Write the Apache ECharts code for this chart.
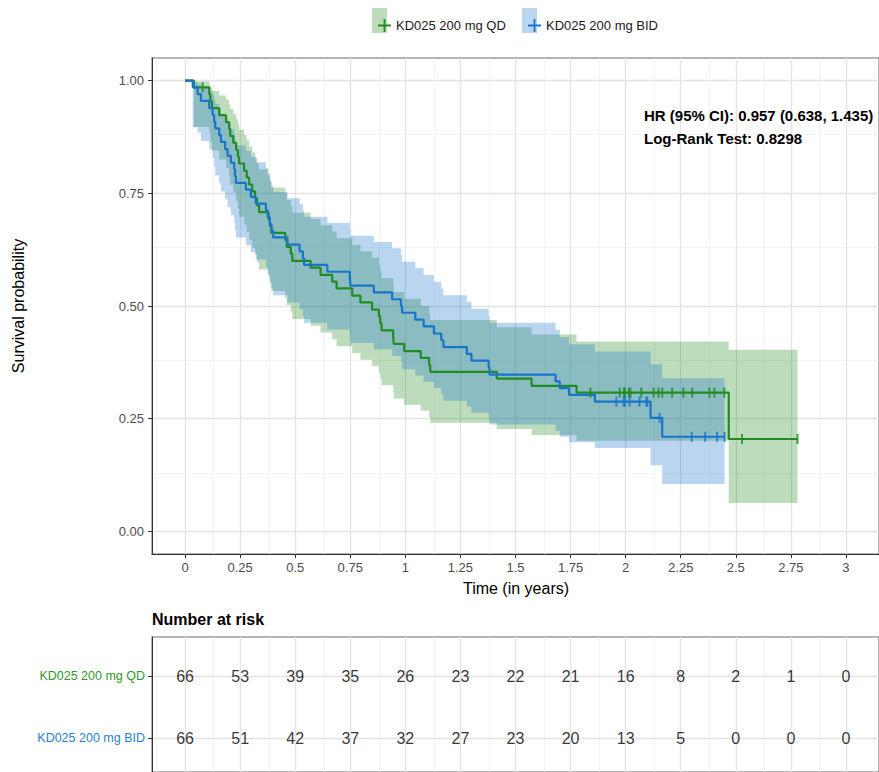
<!DOCTYPE html>
<html><head><meta charset="utf-8">
<script src="https://cdn.jsdelivr.net/npm/echarts@6/dist/echarts.min.js"></script>
<style>html,body{margin:0;padding:0;background:#fff}#c{width:879px;height:772px}</style>
</head><body><div id="c"></div>
<script>
// ---------- data ----------
const groups = ['KD025 200 mg QD', 'KD025 200 mg BID'];
const timeTicks = [0, 0.25, 0.5, 0.75, 1, 1.25, 1.5, 1.75, 2, 2.25, 2.5, 2.75, 3];
const timeTickLabels = ['0', '0.25', '0.5', '0.75', '1', '1.25', '1.5', '1.75', '2', '2.25', '2.5', '2.75', '3'];
const timeMinorTicks = [-0.125, 0.125, 0.375, 0.625, 0.875, 1.125, 1.375, 1.625, 1.875, 2.125, 2.375, 2.625, 2.875, 3.125];
const survTicks = [0, 0.25, 0.5, 0.75, 1];
const survTickLabels = ['0.00', '0.25', '0.50', '0.75', '1.00'];
const survMinorTicks = [0.125, 0.375, 0.625, 0.875];

// KD025 200 mg QD: step points (time in years, survival, 95% CI lower, upper)
const qdTime  = [0, 0.04, 0.11, 0.115, 0.122, 0.155, 0.186, 0.200, 0.205, 0.219, 0.232, 0.240, 0.245, 0.268, 0.280, 0.291, 0.305, 0.318, 0.327, 0.336, 0.379, 0.385, 0.392, 0.455, 0.462, 0.480, 0.487, 0.570, 0.615, 0.668, 0.688, 0.759, 0.796, 0.849, 0.880, 0.886, 0.892, 0.945, 0.947, 0.995, 1.070, 1.108, 1.113, 1.415, 1.573, 1.777, 2.468, 2.780];
const qdSurv  = [1, 0.985, 0.969, 0.954, 0.939, 0.923, 0.908, 0.893, 0.877, 0.862, 0.846, 0.831, 0.816, 0.800, 0.785, 0.769, 0.754, 0.739, 0.723, 0.708, 0.692, 0.677, 0.662, 0.646, 0.631, 0.616, 0.600, 0.585, 0.569, 0.554, 0.539, 0.523, 0.508, 0.492, 0.477, 0.462, 0.446, 0.431, 0.416, 0.400, 0.385, 0.369, 0.354, 0.339, 0.323, 0.308, 0.205, 0.205];
const qdLower = [1, 0.897, 0.883, 0.864, 0.845, 0.825, 0.806, 0.788, 0.769, 0.751, 0.733, 0.716, 0.698, 0.681, 0.664, 0.647, 0.630, 0.614, 0.597, 0.581, 0.565, 0.549, 0.533, 0.517, 0.502, 0.486, 0.471, 0.456, 0.441, 0.426, 0.411, 0.396, 0.381, 0.367, 0.352, 0.338, 0.324, 0.309, 0.295, 0.281, 0.268, 0.254, 0.241, 0.227, 0.214, 0.201, 0.063, 0.063];
const qdUpper = [1, 0.998, 0.992, 0.985, 0.977, 0.967, 0.958, 0.947, 0.937, 0.926, 0.914, 0.903, 0.891, 0.879, 0.867, 0.854, 0.841, 0.829, 0.816, 0.803, 0.789, 0.776, 0.763, 0.749, 0.735, 0.721, 0.707, 0.693, 0.679, 0.665, 0.650, 0.636, 0.621, 0.607, 0.592, 0.577, 0.562, 0.547, 0.531, 0.516, 0.500, 0.485, 0.469, 0.453, 0.437, 0.421, 0.403, 0.403];
const qdCensor = [0.08, 1.840, 1.973, 1.993, 1.996, 2.015, 2.022, 2.071, 2.127, 2.149, 2.166, 2.211, 2.262, 2.302, 2.380, 2.403, 2.448, 2.528, 2.780];

// KD025 200 mg BID
const bidTime  = [0, 0.035, 0.057, 0.072, 0.110, 0.125, 0.132, 0.137, 0.155, 0.163, 0.182, 0.193, 0.208, 0.223, 0.227, 0.231, 0.276, 0.299, 0.321, 0.367, 0.375, 0.385, 0.392, 0.400, 0.465, 0.520, 0.535, 0.540, 0.646, 0.748, 0.751, 0.857, 0.940, 0.980, 0.985, 1.045, 1.083, 1.130, 1.163, 1.173, 1.279, 1.300, 1.378, 1.382, 1.682, 1.701, 1.743, 1.860, 2.113, 2.166, 2.449];
const bidSurv  = [1, 0.985, 0.970, 0.955, 0.939, 0.924, 0.909, 0.894, 0.879, 0.864, 0.848, 0.833, 0.818, 0.803, 0.788, 0.773, 0.758, 0.742, 0.727, 0.712, 0.697, 0.682, 0.667, 0.652, 0.636, 0.621, 0.606, 0.591, 0.576, 0.561, 0.545, 0.530, 0.515, 0.500, 0.485, 0.470, 0.455, 0.439, 0.424, 0.409, 0.394, 0.379, 0.364, 0.348, 0.333, 0.318, 0.303, 0.288, 0.252, 0.210, 0.210];
const bidLower = [1, 0.897, 0.884, 0.866, 0.847, 0.828, 0.809, 0.790, 0.772, 0.754, 0.737, 0.719, 0.702, 0.685, 0.668, 0.652, 0.635, 0.619, 0.603, 0.587, 0.571, 0.555, 0.539, 0.524, 0.508, 0.493, 0.478, 0.463, 0.448, 0.433, 0.418, 0.404, 0.389, 0.375, 0.360, 0.346, 0.332, 0.318, 0.304, 0.290, 0.277, 0.263, 0.250, 0.237, 0.223, 0.210, 0.198, 0.185, 0.147, 0.105, 0.105];
const bidUpper = [1, 0.998, 0.992, 0.985, 0.977, 0.968, 0.958, 0.948, 0.938, 0.927, 0.916, 0.904, 0.892, 0.881, 0.869, 0.856, 0.844, 0.831, 0.819, 0.806, 0.793, 0.780, 0.766, 0.753, 0.739, 0.726, 0.712, 0.698, 0.684, 0.670, 0.656, 0.642, 0.628, 0.613, 0.598, 0.584, 0.569, 0.554, 0.539, 0.524, 0.509, 0.494, 0.478, 0.463, 0.447, 0.431, 0.415, 0.399, 0.371, 0.340, 0.340];
const bidCensor = [1.958, 1.991, 1.997, 2.018, 2.063, 2.094, 2.098, 2.154, 2.300, 2.361, 2.415, 2.449];

// Number at risk (at timeTicks)
const qdAtRisk  = [66, 53, 39, 35, 26, 23, 22, 21, 16, 8, 2, 1, 0];
const bidAtRisk = [66, 51, 42, 37, 32, 27, 23, 20, 13, 5, 0, 0, 0];

const hrText = 'HR (95% CI): 0.957 (0.638, 1.435)';
const lrText = 'Log-Rank Test: 0.8298';

// ---------- styling ----------
const FONT = '"Liberation Sans", Arial, Helvetica, sans-serif';
const GREEN = '#228B22', BLUE = '#1874CD';
const GREEN_FILL = 'rgba(34,139,34,0.3)', BLUE_FILL = 'rgba(24,116,205,0.3)';
const MAJ = {color: '#e4e4e4', width: 1.4, type: 'solid'};
const MIN = {color: '#f1f1f1', width: 0.8, type: 'solid'};

function pairs(xs, ys) { return xs.map((x, i) => [x, ys[i]]); }
function survAt(times, surv, t) {
  let s = surv[0];
  for (let i = 0; i < times.length; i++) if (times[i] <= t) s = surv[i];
  return s;
}
function gridLines(xi, yi, xMaj, xMin, yMaj, yMin) {
  return {
    type: 'line', xAxisIndex: xi, yAxisIndex: yi, data: [], silent: true, z: 0,
    markLine: {
      silent: true, z: 0, zlevel: 0, symbol: ['none', 'none'], label: {show: false}, animation: false,
      lineStyle: {type: 'solid'},
      data: [].concat(
        xMin.map(v => ({xAxis: v, lineStyle: MIN})),
        yMin.map(v => ({yAxis: v, lineStyle: MIN})),
        xMaj.map(v => ({xAxis: v, lineStyle: MAJ})),
        yMaj.map(v => ({yAxis: v, lineStyle: MAJ}))
      )
    }
  };
}
// confidence band drawn as one step polygon through the axis scales
function band(times, lo, up, fill) {
  return {
    type: 'custom', silent: true, z: 1,
    data: times.map((t, i) => [t, lo[i], up[i]]),
    encode: {x: 0, y: [1, 2]},
    renderItem: (params, api) => {
      if (params.dataIndex !== 0) return null;
      const top = [], bottom = [];
      for (let i = 0; i < times.length; i++) {
        const x0 = times[i], x1 = i + 1 < times.length ? times[i + 1] : times[i];
        top.push(api.coord([x0, up[i]]), api.coord([x1, up[i]]));
        bottom.push(api.coord([x0, lo[i]]), api.coord([x1, lo[i]]));
      }
      return {type: 'polygon', shape: {points: top.concat(bottom.reverse())}, style: {fill: fill}};
    }
  };
}
function curve(name, times, surv, color) {
  return {type: 'line', name, step: 'end', symbol: 'none', z: 3, data: pairs(times, surv),
          lineStyle: {color, width: 2.2}, itemStyle: {color}};
}
function censor(name, cens, times, surv, color) {
  return {type: 'scatter', name: name + '-censor', z: 4, symbol: 'rect', symbolSize: [2, 10], silent: true,
          itemStyle: {color}, data: cens.map(t => [t, survAt(times, surv, t)])};
}
function riskRow(row, counts) {
  return {type: 'scatter', xAxisIndex: 1, yAxisIndex: 1, symbolSize: 1, silent: true, z: 5,
          itemStyle: {color: 'rgba(0,0,0,0)'},
          label: {show: true, position: 'inside', formatter: p => String(p.value[2]),
                  color: '#000', fontSize: 16, fontFamily: FONT},
          data: timeTicks.map((t, i) => [t, row, counts[i]])};
}
const rowLabels = {2: groups[0], 1: groups[1]};
const plusIcon = 'path://M0,5.6 L13,5.6 L13,7.4 L0,7.4 Z M5.6,0 L7.4,0 L7.4,13 L5.6,13 Z';

const option = {
  animation: false,
  backgroundColor: '#fff',
  textStyle: {fontFamily: FONT},
  grid: [
    {left: 152, top: 58, width: 728, height: 496, show: true, borderColor: '#9a9a9a', borderWidth: 1.5, backgroundColor: '#fff'},
    {left: 152, top: 637, width: 728, height: 135, show: true, borderColor: '#9a9a9a', borderWidth: 1.5, backgroundColor: '#fff'}
  ],
  legend: [
    {left: 373, top: 14, itemWidth: 13, itemHeight: 13, selectedMode: false,
     textStyle: {fontSize: 13, color: '#1a1a1a', fontFamily: FONT},
     data: [{name: groups[0], icon: plusIcon, itemStyle: {color: GREEN}}]},
    {left: 523, top: 14, itemWidth: 13, itemHeight: 13, selectedMode: false,
     textStyle: {fontSize: 13, color: '#1a1a1a', fontFamily: FONT},
     data: [{name: groups[1], icon: plusIcon, itemStyle: {color: BLUE}}]}
  ],
  xAxis: [
    {type: 'value', gridIndex: 0, min: -0.15, max: 3.15, splitLine: {show: false},
     axisLine: {show: true, onZero: false, lineStyle: {color: '#333', width: 1}},
     axisTick: {show: true, customValues: timeTicks, length: 4, lineStyle: {color: '#333'}},
     axisLabel: {customValues: timeTicks, margin: 7, color: '#4d4d4d', fontSize: 13, fontFamily: FONT,
                 formatter: v => timeTickLabels[timeTicks.indexOf(v)] ?? ''}},
    {type: 'value', gridIndex: 1, min: -0.15, max: 3.15, splitLine: {show: false},
     axisLine: {show: false}, axisTick: {show: false}, axisLabel: {show: false}}
  ],
  yAxis: [
    {type: 'value', gridIndex: 0, min: -0.05, max: 1.05, splitLine: {show: false},
     axisLine: {show: true, onZero: false, lineStyle: {color: '#333', width: 1}},
     axisTick: {show: true, customValues: survTicks, length: 4, lineStyle: {color: '#333'}},
     axisLabel: {customValues: survTicks, margin: 8, color: '#4d4d4d', fontSize: 13, fontFamily: FONT,
                 formatter: v => survTickLabels[survTicks.indexOf(v)] ?? ''}},
    {type: 'value', gridIndex: 1, min: 0.452, max: 2.629, splitLine: {show: false},
     axisLine: {show: true, onZero: false, lineStyle: {color: '#333', width: 1}},
     axisTick: {show: true, customValues: [1, 2], length: 4, lineStyle: {color: '#333'}},
     axisLabel: {customValues: [1, 2], margin: 7, fontSize: 12.5, fontFamily: FONT,
                 formatter: v => (v === 2 ? '{g|' : '{b|') + (rowLabels[v] || '') + '}',
                 rich: {g: {color: '#2e9a2e', fontSize: 12.5, fontFamily: FONT},
                        b: {color: '#2a7fd4', fontSize: 12.5, fontFamily: FONT}}}}
  ],
  graphic: [
    {type: 'rect', shape: {x: 372, y: 8, width: 15, height: 25}, style: {fill: GREEN_FILL}, z: -1, silent: true},
    {type: 'rect', shape: {x: 522, y: 8, width: 15, height: 25}, style: {fill: BLUE_FILL}, z: -1, silent: true},
    {type: 'text', x: 18, y: 306, rotation: Math.PI / 2, silent: true,
     style: {text: 'Survival probability', font: '16px ' + FONT, fill: '#000',
             align: 'center', verticalAlign: 'middle', textAlign: 'center', textVerticalAlign: 'middle'}},
    {type: 'text', x: 516, y: 588, silent: true,
     style: {text: 'Time (in years)', font: '16px ' + FONT, fill: '#000',
             align: 'center', verticalAlign: 'middle', textAlign: 'center', textVerticalAlign: 'middle'}},
    {type: 'text', x: 644, y: 115, silent: true, z: 10,
     style: {text: hrText, font: 'bold 15px ' + FONT, fill: '#000',
             align: 'left', verticalAlign: 'middle', textAlign: 'left', textVerticalAlign: 'middle'}},
    {type: 'text', x: 644, y: 138, silent: true, z: 10,
     style: {text: lrText, font: 'bold 15px ' + FONT, fill: '#000',
             align: 'left', verticalAlign: 'middle', textAlign: 'left', textVerticalAlign: 'middle'}},
    {type: 'text', x: 152, y: 619, silent: true,
     style: {text: 'Number at risk', font: 'bold 16px ' + FONT, fill: '#000',
             align: 'left', verticalAlign: 'middle', textAlign: 'left', textVerticalAlign: 'middle'}}
  ],
  series: [].concat(
    [gridLines(0, 0, timeTicks, timeMinorTicks, survTicks, survMinorTicks)],
    [gridLines(1, 1, timeTicks, timeMinorTicks, [1, 2], [])],
    [band(qdTime, qdLower, qdUpper, GREEN_FILL), band(bidTime, bidLower, bidUpper, BLUE_FILL)],
    [curve(groups[0], qdTime, qdSurv, GREEN), curve(groups[1], bidTime, bidSurv, BLUE)],
    [censor(groups[0], qdCensor, qdTime, qdSurv, GREEN), censor(groups[1], bidCensor, bidTime, bidSurv, BLUE)],
    [riskRow(2, qdAtRisk), riskRow(1, bidAtRisk)]
  )
};
const chart = echarts.init(document.getElementById('c'), null, {renderer: 'svg', width: 879, height: 772});
chart.setOption(option);
</script>
</body></html>
